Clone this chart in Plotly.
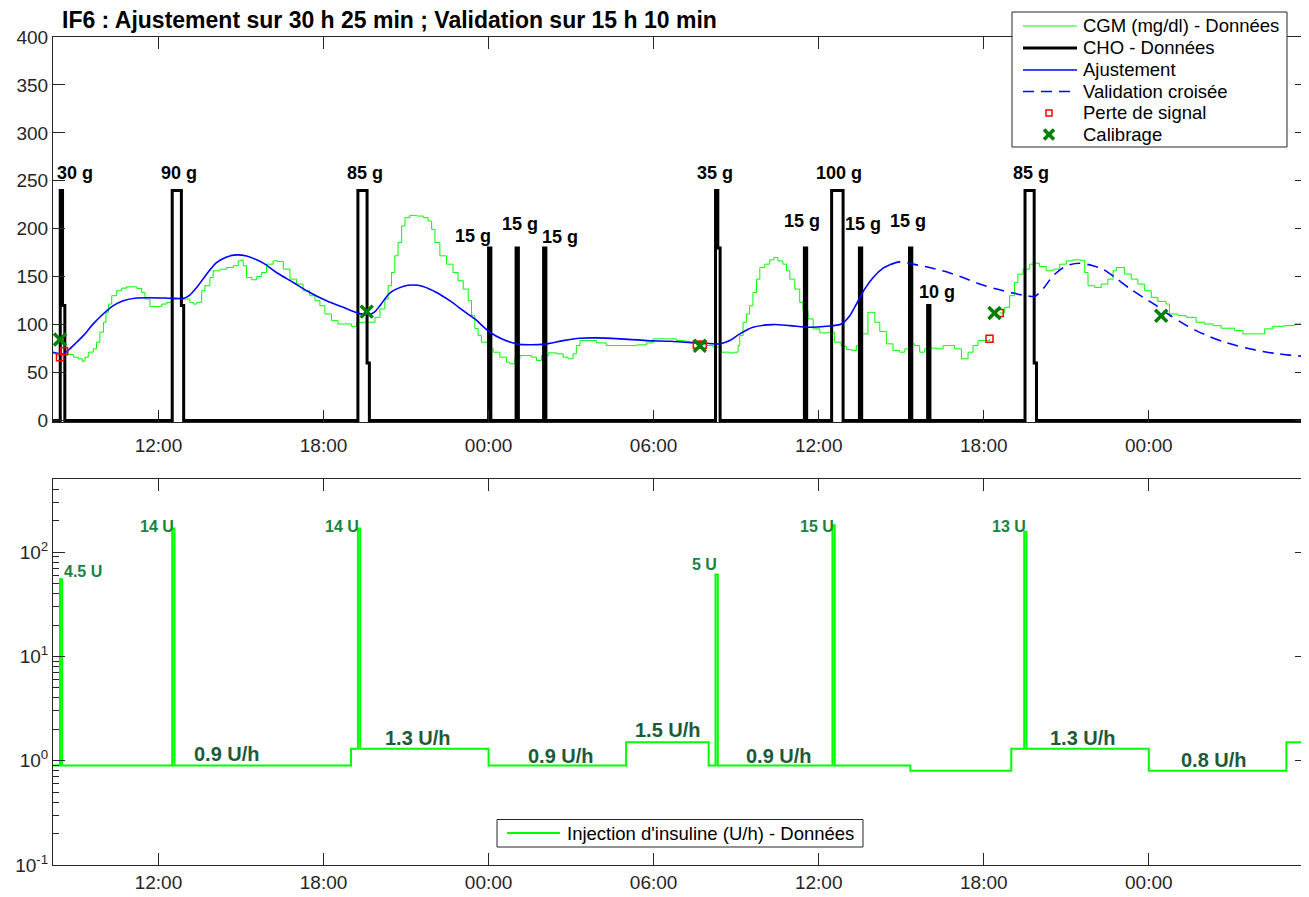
import math
import plotly.graph_objects as go

# time is in hours counted from midnight of the first day
T_START = 8 + 10 / 60
FIT_END = T_START + 30 + 25 / 60
T_END = FIT_END + 15 + 10 / 60
STEP_H = 5 / 60

TICK_HOURS = [12, 18, 24, 30, 36, 42, 48]
TICK_TEXT = ["12:00", "18:00", "00:00", "06:00", "12:00", "18:00", "00:00"]

# CGM readings (mg/dl); None = signal lost
CGM_T = [8.17, 8.30, 8.42, 8.50, 8.57, 8.72, 8.91, 9.09, 9.23, 9.33, 9.45, 9.63, 9.75, 9.87, 10.00,
         10.09, 10.18, 10.30, 10.48, 10.66, 10.84, 11.03, 11.21, 11.39, 11.51, 11.69, 11.93, 12.12,
         12.30, 12.48, 13.02, 13.14, 13.27, 13.39, 13.57, 13.69, 13.87, 13.99, 14.24, 14.48, 14.72,
         14.90, 15.02, 15.08, 15.20, 15.39, 15.57, 15.75, 15.93, 16.17, 16.35, 16.54, 16.78, 17.02,
         17.26, 17.50, 17.69, 17.87, 18.05, 18.29, 18.53, 18.78, 19.02, 19.20, 19.68, 19.87, 20.05,
         20.23, 20.35, 20.47, 20.59, 20.71, 20.84, 20.96, 21.14, 21.38, 21.62, 21.80, 21.93, 22.05,
         22.23, 22.47, 22.71, 22.89, 23.08, 23.26, 23.38, 23.50, 23.62, 23.74, 23.99, 24.17, 24.41,
         24.65, 24.77, 24.95, 25.14, 25.38, 25.56, 25.74, 25.92, 26.17, 26.47, 26.71, 26.89, 27.07,
         27.19, 27.32, 27.68, 27.92, 28.28, 28.89, 29.38, 29.74, 29.98, 30.40, 30.83, 31.13, 31.31,
         31.57, 31.68, 31.79, 31.92, 32.16, 32.46, 32.77, 32.95, 33.07, 33.13, 33.25, 33.37, 33.49,
         33.61, 33.74, 33.86, 34.04, 34.22, 34.37, 34.52, 34.70, 34.83, 34.95, 35.13, 35.31, 35.43,
         35.61, 35.80, 36.04, 36.34, 36.58, 36.82, 37.01, 37.19, 37.37, 37.55, 37.79, 37.91, 38.04,
         38.22, 38.46, 38.70, 38.94, 39.13, 39.31, 39.49, 39.67, 39.85, 40.09, 40.28, 40.52, 40.76,
         40.94, 41.19, 41.43, 41.61, 41.79, 42.03, 42.21, 42.40, 42.58, 42.76, 42.94, 43.12, 43.24,
         43.43, 43.67, 43.85, 44.03, 44.27, 44.52, 44.76, 45.00, 45.24, 45.49, 45.67, 45.79, 46.03,
         46.27, 46.51, 46.70, 46.82, 47.00, 47.12, 47.36, 47.60, 47.85, 48.09, 48.33, 48.63, 48.75,
         49.06, 49.36, 49.72, 50.03, 50.33, 50.63, 51.12, 51.42, 52.02, 52.21, 52.51, 52.93, 53.30,
         53.54, 53.75]
CGM_V = [69.6, 67.5, 66.1, None, 72.4, 68.9, 66.1, 64.4, 62.0, 66.1, 71.3, 74.8, 81.7, 92.1, 102.5,
         112.9, 121.5, 130.2, 135.4, 138.1, 139.5, 139.5, 137.8, 133.6, 126.7, 118.8, 119.1, 121.5,
         123.3, 126.7, 126.7, 123.3, 121.5, 123.3, 135.4, 140.6, 149.2, 156.2, 157.9, 159.6, 161.4,
         166.5, 167.6, 161.4, 149.2, 146.8, 150.3, 154.4, 163.1, 166.5, 165.9, 157.9, 147.5, 142.3,
         135.4, 130.2, 125.0, 119.8, 111.1, 104.2, 100.7, 100.7, 98.3, 102.5, 102.5, 107.7, 116.3,
         126.7, 140.6, 154.4, 171.8, 185.6, 202.9, 211.6, 214.0, 213.3, 211.6, 208.1, 199.4, 185.6,
         171.8, 163.1, 154.4, 145.8, 137.1, 125.0, 109.4, 96.0, 88.6, 81.7, 74.8, 71.3, 66.1,
         60.9, 59.2, 64.4, 67.8, 67.8, 66.1, 62.7, 67.8, 70.6, 69.6, 66.1, 64.4, 69.6,
         78.2, 83.4, 83.4, 81.0, 78.2, 78.2, 78.9, 81.0, 85.2, 85.2, 83.4, 82.7, 81.0,
         79.0, None, 79.0, 78.2, 76.5, 71.3, 70.6, 71.3, 78.2, 88.6, 102.5, 111.1, 119.8,
         133.6, 147.5, 159.6, 163.1, 167.6, 170.0, 166.5, 163.1, 156.2, 147.5, 137.1, 123.3, 114.6,
         106.0, 95.6, 91.4, 92.1, 81.7, 77.5, 74.1, 73.0, 78.2, 90.4, 112.9, 112.9, 102.5,
         93.0, 80.0, 73.0, 71.3, 74.8, 80.0, 78.2, 71.3, 74.8, 75.5, 74.8, 78.2, 78.2,
         74.8, 64.4, 71.3, 78.2, 83.4, 83.4, 85.2, None, 112.2, 118.1, 130.2, 144.0, 152.7,
         157.9, 163.1, 164.1, 160.7, 156.2, 157.9, 163.1, 166.5, 167.6, 167.2, 154.4, 140.6, 138.9,
         142.3, 147.5, 156.2, 159.6, 159.6, 152.7, 147.5, 142.3, 135.4, 128.5, 124.3, 121.5, 111.1,
         109.4, 107.7, 102.5, 100.7, 99.0, 96.3, 93.8, 90.4, 90.4, 95.6, 98.3, 99.0, 100.7,
         103.5, 102.5]

# model fit (solid) and cross-validation (dashed), mg/dl
FIT_T = [8.17, 8.54, 8.78, 9.03, 9.27, 9.63, 9.99, 10.36, 10.72, 11.21, 11.69, 12.18, 12.66, 12.90,
         13.14, 13.39, 13.75, 14.11, 14.48, 14.84, 15.20, 15.57, 15.87, 16.29, 16.90, 17.50, 18.11,
         18.72, 19.32, 19.65, 19.85, 20.05, 20.41, 20.89, 21.26, 21.62, 22.11, 22.59, 23.08, 23.50,
         24.05, 24.53, 25.02, 25.50, 26.11, 26.71, 27.32, 27.92, 28.77, 29.74, 30.59, 31.13, 31.68,
         32.40, 32.77, 33.13, 33.61, 34.34, 34.95, 35.67, 36.28, 36.82, 37.13, 37.37, 37.67, 37.98,
         38.34, FIT_END]
FIT_V = [71.3, 69.6, 74.8, 81.7, 88.6, 100.8, 111.1, 119.8, 125.0, 127.8, 128.1, 127.8, 127.4, 127.4,
         130.9, 138.8, 152.7, 164.8, 170.7, 172.8, 171.7, 167.6, 163.1, 154.4, 144.0, 133.6, 125.0,
         118.1, 111.5, 110.5, 113.0, 119.8, 133.0, 139.9, 141.3, 139.9, 133.6, 125.0, 114.6, 106.0,
         92.1, 84.5, 80.0, 79.0, 80.0, 83.4, 85.9, 86.2, 85.2, 83.4, 82.7, 81.7, 81.0,
         80.0, 83.4, 90.4, 97.3, 100.1, 99.0, 97.3, 98.3, 100.7, 109.4, 121.5, 137.1, 149.2,
         158.9, 162.5]
VAL_T = [FIT_END, 38.94, 39.43, 40.03, 40.64, 41.24, 41.85, 42.46, 43.06, 43.55, 43.85, 44.15, 44.52,
         45.00, 45.49, 45.97, 46.33, 46.82, 47.30, 47.79, 48.28, 48.75, 49.24, 49.72, 50.21, 50.69,
         51.18, 51.66, 52.15, 52.63, 53.12, T_END]
VAL_V = [162.5, 165.5, 163.1, 159.6, 155.1, 149.2, 142.3, 137.1, 133.0, 130.2, 129.5, 137.1, 151.0,
         161.4, 164.1, 161.4, 157.9, 148.2, 137.8, 128.5, 119.8, 110.1, 101.4, 93.8, 87.6, 82.4,
         78.2, 74.8, 72.0, 69.9, 68.2, 66.8]

LOSS_T = [8.42, 8.57, 31.57, 31.79, 42.21, 42.58]
LOSS_V = [66.1, 72.4, 79.0, 79.0, 85.2, 112.2]
CALIB_T = [8.42, 19.57, 31.68, 42.39, 48.45]
CALIB_V = [84.5, 113.6, 78.0, 112.2, 109.4]

# meals: start hour, carb rate of each 5-min step, label
MEAL_START = [8.43, 12.50, 19.25, 24.00, 25.00, 26.00, 32.25, 35.48, 36.47, 37.48, 39.30, 39.96, 43.50]
MEAL_RATES = [[240, 120], [240, 240, 240, 240, 120], [240, 240, 240, 240, 60], [180], [180], [180],
              [240, 180], [180], [240, 240, 240, 240, 240], [180], [180], [120], [240, 240, 240, 240, 60]]
MEAL_TEXT = ["30 g", "90 g", "85 g", "15 g", "15 g", "15 g", "35 g", "15 g", "100 g", "15 g", "15 g",
             "10 g", "85 g"]

# insulin delivery (U/h), step series with bolus spikes
INS_T = [T_START, 8.42, 8.50, 12.50, 12.583, 19.00, 19.25, 19.333, 24.00, 29.00, 32.00, 32.25, 32.333,
         36.50, 36.583, 39.333, 43.00, 43.47, 43.553, 48.00, 53.00, T_END]
INS_V = [0.9, 55, 0.9, 169, 0.9, 1.3, 169, 1.3, 0.9, 1.5, 0.9, 61, 0.9, 181, 0.9, 0.8, 1.3, 157, 1.3,
         0.8, 1.5, 1.5]
BOLUS_T = [8.48, 12.64, 19.38, 32.37, 36.62, 43.61]
BOLUS_TEXT = ["4.5 U", "14 U", "14 U", "5 U", "15 U", "13 U"]
BASAL_T = [14.48, 21.45, 26.64, 30.52, 34.57, 45.59, 50.38]
BASAL_TEXT = ["0.9 U/h", "1.3 U/h", "0.9 U/h", "1.5 U/h", "0.9 U/h", "1.3 U/h", "0.8 U/h"]

# label placement (data units)
MEAL_LABEL_X = [8.95, 12.76, 19.50, 23.45, 25.14, 26.60, 32.23, 35.39, 36.74, 37.62, 39.23, 40.30, 43.72]
MEAL_LABEL_Y = [258, 258, 258, 192, 205, 191, 258, 208, 258, 205, 208, 134, 258]
BOLUS_LABEL_V = [66, 176, 176, 77, 176, 176]
BASAL_LABEL_V = [1.16, 1.67, 1.12, 1.98, 1.12, 1.65, 1.01]

FONT = "Liberation Sans, Arial, sans-serif"
INK = "#262626"

# page geometry (the html body adds an 8px margin, so the figure is 8px smaller)
W, H = 1301, 889
PLOT_L, PLOT_R, PLOT_T, PLOT_B = 53, 1307, 37, 865   # in window pixels


def px(x):
    return (x - PLOT_L) / (PLOT_R - PLOT_L)


def py(y):
    return (PLOT_B - y) / (PLOT_B - PLOT_T)


cho_t, cho_v = [T_START], [0]
for start, rates in zip(MEAL_START, MEAL_RATES):
    for k, r in enumerate(rates):
        cho_t.append(start + k * STEP_H)
        cho_v.append(r)
    cho_t.append(start + len(rates) * STEP_H)
    cho_v.append(0)
cho_t.append(T_END)
cho_v.append(0)

CGM_LINE = dict(color='#00ff00', width=1)
CHO_LINE = dict(color='black', width=3)
FIT_LINE = dict(color='#0000ff', width=1.6)
VAL_LINE = dict(color='#0000ff', width=1.6, dash='11px,7px')
INS_LINE = dict(color='#00ff00', width=2)

fig = go.Figure()
fig.add_trace(go.Scatter(x=CGM_T, y=CGM_V, mode='lines', name='CGM (mg/dl) - Données',
                         line=dict(CGM_LINE, shape='hv'), connectgaps=False, xaxis='x', yaxis='y'))
fig.add_trace(go.Scatter(x=cho_t, y=cho_v, mode='lines', name='CHO - Données',
                         line=dict(CHO_LINE, shape='hv'), xaxis='x', yaxis='y'))
fig.add_trace(go.Scatter(x=FIT_T, y=FIT_V, mode='lines', name='Ajustement',
                         line=dict(FIT_LINE, shape='spline', smoothing=0.8), xaxis='x', yaxis='y'))
fig.add_trace(go.Scatter(x=VAL_T, y=VAL_V, mode='lines', name='Validation croisée',
                         line=dict(VAL_LINE, shape='spline', smoothing=0.8), xaxis='x', yaxis='y'))
fig.add_trace(go.Scatter(x=LOSS_T, y=LOSS_V, mode='markers', name='Perte de signal',
                         marker=dict(symbol='square-open', size=7, color='#ff0000', line=dict(width=1.5)),
                         xaxis='x', yaxis='y'))
fig.add_trace(go.Scatter(x=CALIB_T, y=CALIB_V, mode='markers', name='Calibrage',
                         marker=dict(symbol='x-thin', size=12, color='#008000',
                                     line=dict(width=3.5, color='#008000')),
                         xaxis='x', yaxis='y'))
fig.add_trace(go.Scatter(x=INS_T, y=INS_V, mode='lines', name="Injection d'insuline (U/h) - Données",
                         line=dict(INS_LINE, shape='hv'), xaxis='x2', yaxis='y2'))
fig.update_traces(showlegend=False)

annotations = [dict(text='<b>IF6 : Ajustement sur 30 h 25 min ; Validation sur 15 h 10 min</b>',
                    xref='paper', yref='paper', x=px(60), y=py(20), xanchor='left', yanchor='middle',
                    showarrow=False, font=dict(family=FONT, size=23, color='black'))]
for txt, x, y in zip(MEAL_TEXT, MEAL_LABEL_X, MEAL_LABEL_Y):
    annotations.append(dict(text=f'<b>{txt}</b>', x=x, y=y, xref='x', yref='y', showarrow=False,
                            font=dict(family=FONT, size=18, color='black')))
for i, (txt, x, v) in enumerate(zip(BOLUS_TEXT, BOLUS_T, BOLUS_LABEL_V)):
    annotations.append(dict(text=f'<b>{txt}</b>', x=x, y=math.log10(v), xref='x2', yref='y2',
                            xanchor='left' if i == 0 else 'right', showarrow=False,
                            font=dict(family=FONT, size=16, color='#1a8244')))
for txt, x, v in zip(BASAL_TEXT, BASAL_T, BASAL_LABEL_V):
    annotations.append(dict(text=f'<b>{txt}</b>', x=x, y=math.log10(v), xref='x2', yref='y2',
                            showarrow=False, font=dict(family=FONT, size=20, color='#1d5a3a')))

# hand-drawn legends (MATLAB style, tighter rows than plotly's legend)
shapes = []


def legend_box(x0, x1, y0, y1):
    shapes.append(dict(type='rect', xref='paper', yref='paper', x0=px(x0), x1=px(x1), y0=py(y0), y1=py(y1),
                       line=dict(color=INK, width=1), fillcolor='white', layer='above'))


def legend_text(text, x, y):
    annotations.append(dict(text=text, xref='paper', yref='paper', x=px(x), y=py(y), xanchor='left',
                            yanchor='middle', showarrow=False, font=dict(family=FONT, size=18.5, color='black')))


def legend_line(line, x0, x1, y):
    shapes.append(dict(type='line', xref='paper', yref='paper', x0=px(x0), x1=px(x1), y0=py(y), y1=py(y),
                       line=line, layer='above'))


legend_box(1012, 1287, 12, 147)
rows = [26, 48, 70, 91.5, 113, 134.5]
for name, line, y in [('CGM (mg/dl) - Données', CGM_LINE, rows[0]), ('CHO - Données', CHO_LINE, rows[1]),
                      ('Ajustement', FIT_LINE, rows[2]), ('Validation croisée', VAL_LINE, rows[3])]:
    legend_line(line, 1023, 1077, y)
    legend_text(name, 1081, y)
# signal-loss square and calibration cross samples
shapes.append(dict(type='rect', xref='paper', yref='paper', x0=px(1046), x1=px(1052), y0=py(rows[4] - 3),
                   y1=py(rows[4] + 3), line=dict(color='#ff0000', width=1.5), layer='above'))
for dy in (-1, 1):
    shapes.append(dict(type='line', xref='paper', yref='paper', x0=px(1044), x1=px(1054),
                       y0=py(rows[5] - 5 * dy), y1=py(rows[5] + 5 * dy),
                       line=dict(color='#008000', width=3.5), layer='above'))
legend_text('Perte de signal', 1081, rows[4])
legend_text('Calibrage', 1081, rows[5])

legend_box(497, 863, 819.5, 847)
legend_line(INS_LINE, 507, 560, 833)
legend_text("Injection d'insuline (U/h) - Données", 565, 833)

axis_style = dict(showline=True, linecolor=INK, linewidth=1, mirror='allticks', ticks='inside',
                  ticklen=12, tickcolor=INK, showgrid=False, zeroline=False, automargin=False,
                  tickfont=dict(family=FONT, size=19, color=INK))
x_style = dict(axis_style, range=[T_START, T_END], tickmode='array', tickvals=TICK_HOURS,
               ticktext=TICK_TEXT)

minor_vals = [m * 10.0 ** e for e in range(-1, 3) for m in range(2, 10) if m * 10.0 ** e <= 500]

fig.update_layout(
    width=W, height=H,
    margin=dict(l=PLOT_L - 8, r=W + 8 - PLOT_R, t=PLOT_T - 8, b=H + 8 - PLOT_B, autoexpand=False),
    paper_bgcolor='white', plot_bgcolor='white',
    font=dict(family=FONT, color='black'),
    xaxis=dict(x_style, domain=[0, 1], anchor='y', ticklabelstandoff=6),
    yaxis=dict(axis_style, domain=[py(422), 1], range=[-1.5, 400], tickmode='array',
               tickvals=list(range(0, 401, 50))),
    xaxis2=dict(x_style, domain=[0, 1], anchor='y2'),
    yaxis2=dict(axis_style, domain=[0, py(479.3)], type='log', range=[-1, math.log10(500)],
                tickmode='array', tickvals=[0.1, 1, 10, 100],
                ticktext=['10<sup>-1</sup>', '10<sup>0</sup>', '10<sup>1</sup>', '10<sup>2</sup>'],
                minor=dict(tickmode='array', tickvals=minor_vals, ticks='inside', ticklen=6, tickcolor=INK)),
    annotations=annotations,
    shapes=shapes,
    showlegend=False,
)

fig.write_html("out.html")
